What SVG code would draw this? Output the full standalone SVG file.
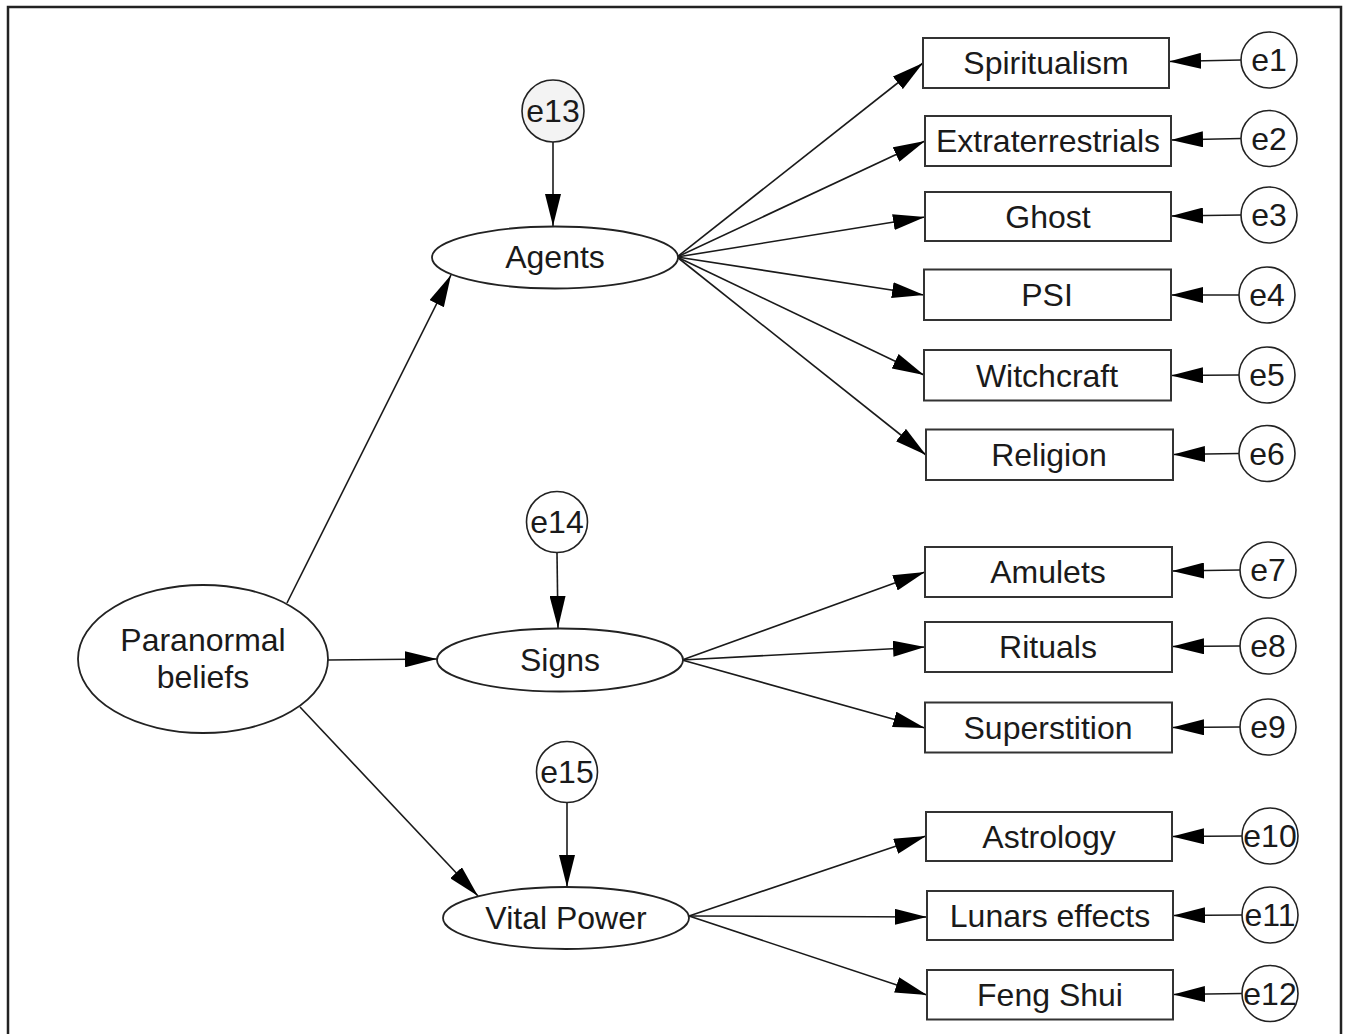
<svg xmlns="http://www.w3.org/2000/svg" width="1346" height="1034" viewBox="0 0 1346 1034">
<style>
.frame{fill:none;stroke:#222;stroke-width:2.5}
.box{fill:#fff;stroke:#333;stroke-width:2}
.lat{fill:#fff;stroke:#222;stroke-width:1.8}
.err{fill:#fff;stroke:#222;stroke-width:1.6}
.e13{fill:#f3f3f3}
.t{font-family:"Liberation Sans",Arial,sans-serif;font-size:32px;fill:#1a1a1a;text-anchor:middle}
.c line{stroke:#1a1a1a;stroke-width:1.6;marker-end:url(#ah)}
</style>
<defs>
<marker id="ah" viewBox="0 0 32 16" markerWidth="32" markerHeight="16" refX="32" refY="8" orient="auto" markerUnits="userSpaceOnUse">
<path d="M0,0 L32,8 L0,16 z" fill="#000"/>
</marker>
</defs>
<rect fill="#fff" x="0" y="0" width="1346" height="1034"/>
<rect class="frame" x="8" y="7" width="1333" height="1045"/>

<g class="c" id="connectors">
<line x1="287" y1="603" x2="451" y2="275"/>
<line x1="328" y1="660" x2="437" y2="659"/>
<line x1="300" y1="707" x2="478" y2="896"/>
<line x1="553" y1="142" x2="553" y2="226"/>
<line x1="557" y1="553" x2="558" y2="628"/>
<line x1="567" y1="803" x2="567" y2="887"/>
<line x1="677" y1="257" x2="923" y2="63"/>
<line x1="677" y1="257" x2="925" y2="141"/>
<line x1="677" y1="257" x2="925" y2="217"/>
<line x1="677" y1="257" x2="924" y2="295"/>
<line x1="677" y1="257" x2="924" y2="375"/>
<line x1="677" y1="257" x2="926" y2="455"/>
<line x1="682" y1="660" x2="925" y2="572"/>
<line x1="682" y1="660" x2="925" y2="647"/>
<line x1="682" y1="660" x2="925" y2="728"/>
<line x1="689" y1="916" x2="926" y2="836"/>
<line x1="689" y1="916" x2="927" y2="917"/>
<line x1="689" y1="916" x2="927" y2="995"/>
<line x1="1241" y1="60" x2="1169" y2="61.5"/>
<line x1="1241" y1="138.5" x2="1171" y2="140"/>
<line x1="1241" y1="215" x2="1171" y2="216"/>
<line x1="1239" y1="295" x2="1171" y2="295"/>
<line x1="1239" y1="375" x2="1171" y2="375.5"/>
<line x1="1239" y1="453.5" x2="1173" y2="454.5"/>
<line x1="1240" y1="570" x2="1172" y2="571"/>
<line x1="1240" y1="646" x2="1172" y2="646.5"/>
<line x1="1240" y1="727" x2="1172" y2="727.5"/>
<line x1="1242" y1="836" x2="1172" y2="836.5"/>
<line x1="1242" y1="915" x2="1173" y2="915.5"/>
<line x1="1242" y1="993.5" x2="1173" y2="994.5"/>
</g>

<g id="paranormal"><ellipse class="lat" cx="203" cy="659" rx="125" ry="74"/><text class="t" x="203" y="651">Paranormal</text><text class="t" x="203" y="688">beliefs</text></g>
<g id="agents"><ellipse class="lat" cx="555" cy="257.5" rx="123" ry="31"/><text class="t" x="555" y="268">Agents</text></g>
<g id="signs"><ellipse class="lat" cx="560" cy="660" rx="123" ry="31.5"/><text class="t" x="560" y="671">Signs</text></g>
<g id="vital"><ellipse class="lat" cx="566" cy="918" rx="123" ry="31"/><text class="t" x="566" y="929">Vital Power</text></g>

<g id="e13"><circle class="err e13" cx="553" cy="111" r="31"/><text class="t" x="553" y="122">e13</text></g>
<g id="e14"><circle class="err" cx="557" cy="522" r="30.5"/><text class="t" x="557" y="533">e14</text></g>
<g id="e15"><circle class="err" cx="567" cy="772" r="30.5"/><text class="t" x="567" y="783">e15</text></g>

<g id="spiritualism"><rect class="box" x="923" y="38" width="246" height="50"/><text class="t" x="1046" y="74">Spiritualism</text></g>
<g id="extraterrestrials"><rect class="box" x="925" y="116" width="246" height="50"/><text class="t" x="1048" y="152">Extraterrestrials</text></g>
<g id="ghost"><rect class="box" x="925" y="192" width="246" height="49"/><text class="t" x="1048" y="228">Ghost</text></g>
<g id="psi"><rect class="box" x="924" y="269.5" width="247" height="50.5"/><text class="t" x="1047" y="306">PSI</text></g>
<g id="witchcraft"><rect class="box" x="924" y="350" width="247" height="50.5"/><text class="t" x="1047" y="387">Witchcraft</text></g>
<g id="religion"><rect class="box" x="926" y="429.5" width="247" height="50.5"/><text class="t" x="1049" y="466">Religion</text></g>
<g id="amulets"><rect class="box" x="925" y="547" width="247" height="50"/><text class="t" x="1048" y="583">Amulets</text></g>
<g id="rituals"><rect class="box" x="925" y="622" width="247" height="50"/><text class="t" x="1048" y="658">Rituals</text></g>
<g id="superstition"><rect class="box" x="925" y="702.5" width="247" height="50"/><text class="t" x="1048" y="739">Superstition</text></g>
<g id="astrology"><rect class="box" x="926" y="812" width="246" height="49"/><text class="t" x="1049" y="848">Astrology</text></g>
<g id="lunars"><rect class="box" x="927" y="891" width="246" height="49"/><text class="t" x="1050" y="927">Lunars effects</text></g>
<g id="fengshui"><rect class="box" x="927" y="970" width="246" height="49.5"/><text class="t" x="1050" y="1006">Feng Shui</text></g>

<g id="e1"><circle class="err" cx="1269" cy="60" r="28"/><text class="t" x="1269" y="71">e1</text></g>
<g id="e2"><circle class="err" cx="1269" cy="138.5" r="28"/><text class="t" x="1269" y="149.5">e2</text></g>
<g id="e3"><circle class="err" cx="1269" cy="215" r="28"/><text class="t" x="1269" y="226">e3</text></g>
<g id="e4"><circle class="err" cx="1267" cy="295" r="28"/><text class="t" x="1267" y="306">e4</text></g>
<g id="e5"><circle class="err" cx="1267" cy="375" r="28"/><text class="t" x="1267" y="386">e5</text></g>
<g id="e6"><circle class="err" cx="1267" cy="453.5" r="28"/><text class="t" x="1267" y="464.5">e6</text></g>
<g id="e7"><circle class="err" cx="1268" cy="570" r="28"/><text class="t" x="1268" y="581">e7</text></g>
<g id="e8"><circle class="err" cx="1268" cy="646" r="28"/><text class="t" x="1268" y="657">e8</text></g>
<g id="e9"><circle class="err" cx="1268" cy="727" r="28"/><text class="t" x="1268" y="738">e9</text></g>
<g id="e10"><circle class="err" cx="1270" cy="836" r="28"/><text class="t" x="1270" y="847">e10</text></g>
<g id="e11"><circle class="err" cx="1270" cy="915" r="28"/><text class="t" x="1270" y="926">e11</text></g>
<g id="e12"><circle class="err" cx="1270" cy="993.5" r="28"/><text class="t" x="1270" y="1004.5">e12</text></g>
</svg>
